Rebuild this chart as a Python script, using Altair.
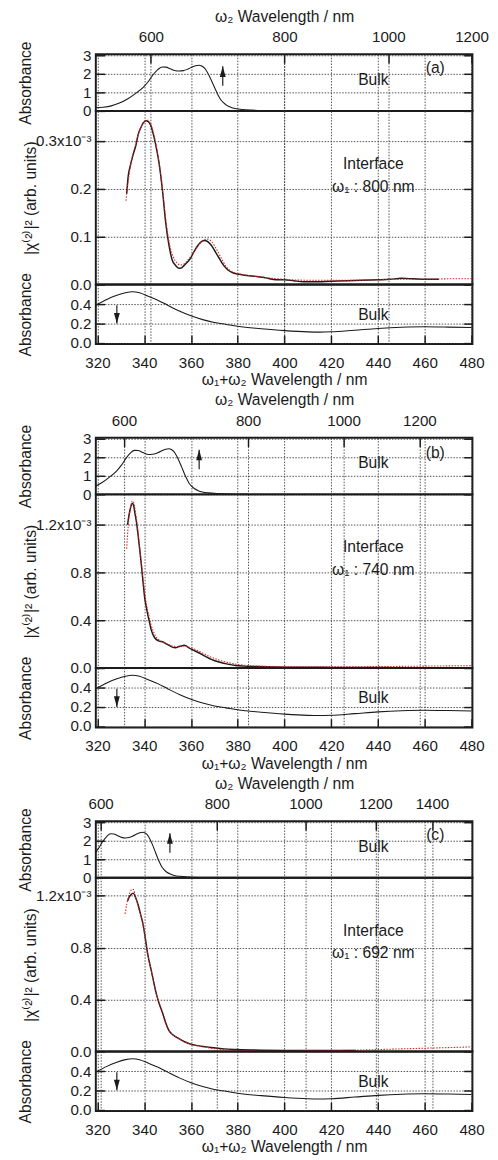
import altair as alt
import pandas as pd

FONT = "Liberation Sans"
FS = 16
LFS = 15.5
INK = "#1b1b1b"
RED = "#e3201b"
GRID = "#3a3a3a"

# ---------------- data ----------------
# bulk absorbance against the omega2 wavelength (nm)
bulk_w2_nm = [530, 540, 550, 560, 570, 580, 590, 597, 603, 609, 615, 620, 626, 632,
              638, 644, 650, 656, 661, 666, 670, 674, 678, 682, 686, 690, 694, 698,
              702, 707, 713, 720, 730, 745, 765, 800]
bulk_w2_abs = [0.17, 0.20, 0.27, 0.42, 0.64, 0.93, 1.27, 1.60, 1.95, 2.22, 2.37, 2.36,
               2.27, 2.18, 2.15, 2.17, 2.25, 2.36, 2.43, 2.46, 2.42, 2.30, 2.08, 1.80,
               1.48, 1.15, 0.85, 0.60, 0.44, 0.30, 0.20, 0.13, 0.08, 0.04, 0.015, 0.0]

# bulk absorbance against the omega1+omega2 wavelength (nm)
bulk_sum_nm = [320, 324, 328, 332, 335, 338, 342, 346, 350, 355, 360, 365, 370, 375,
               380, 390, 400, 410, 415, 420, 430, 440, 450, 460, 470, 480]
bulk_sum_abs = [0.40, 0.45, 0.49, 0.52, 0.53, 0.52, 0.48, 0.44, 0.39, 0.33, 0.28, 0.24,
                0.21, 0.19, 0.17, 0.145, 0.125, 0.112, 0.11, 0.113, 0.13, 0.148, 0.16,
                0.165, 0.162, 0.157]

# |chi(2)|^2 spectra (x10^-3), black = measured, red = fit
a_black_nm = [332.5, 333.2, 333.9, 335.3, 336.5, 337.4, 338.5, 339.5, 340.9, 342.3, 343.3,
              344.3, 345.4, 346.4, 347.8, 349.2, 350.6, 352.0, 353.4, 354.8, 356.0, 356.9,
              358.3, 359.7, 361.0, 362.4, 364.0, 365.6, 367.1, 368.7, 370.5, 372.2, 374.0,
              375.7, 377.7, 379.8, 384, 388.2, 392, 396.5, 400, 404, 408, 412, 420, 427,
              433, 440, 445, 450, 455, 460, 466]
a_black_v = [0.19, 0.228, 0.245, 0.272, 0.292, 0.313, 0.327, 0.337, 0.342, 0.337, 0.325,
             0.306, 0.28, 0.252, 0.197, 0.129, 0.082, 0.051, 0.04, 0.034, 0.035, 0.039,
             0.046, 0.054, 0.066, 0.078, 0.088, 0.092, 0.09, 0.082, 0.068, 0.054, 0.04,
             0.031, 0.025, 0.022, 0.019, 0.017, 0.014, 0.010, 0.010, 0.008, 0.006, 0.006,
             0.007, 0.008, 0.009, 0.010, 0.011, 0.013, 0.012, 0.011, 0.011]
a_red_nm = [332.2, 333.0, 334.0, 335.3, 336.5, 337.5, 339, 340.5, 341.5, 342.5, 343.5, 344.5,
            345.5, 346.5, 348, 349.5, 351, 352.5, 354, 355.5, 357, 359, 361, 363, 365, 367,
            369, 371, 373, 375, 378, 382, 386, 390, 395, 400, 410, 420, 430, 440, 450, 460,
            470, 480]
a_red_v = [0.175, 0.21, 0.245, 0.275, 0.295, 0.315, 0.333, 0.342, 0.343, 0.338, 0.325, 0.305,
           0.28, 0.25, 0.19, 0.125, 0.08, 0.057, 0.045, 0.041, 0.043, 0.053, 0.066, 0.08,
           0.091, 0.095, 0.089, 0.073, 0.055, 0.038, 0.026, 0.021, 0.018, 0.016, 0.013, 0.011,
           0.009, 0.009, 0.009, 0.010, 0.011, 0.011, 0.012, 0.012]

b_black_nm = [332.9, 333.4, 333.9, 334.4, 334.9, 335.5, 336.0, 336.7, 337.4, 338.1, 338.8,
              339.5, 340.2, 340.9, 341.5, 342.3, 343.0, 344.0, 345.1, 346.4, 347.8, 349.2,
              350.6, 352.0, 353.4, 354.8, 356.0, 356.9, 358.0, 359.0, 361.0, 363.1, 366,
              368.7, 372, 375.7, 379, 382.6, 388, 396.5, 405, 415, 425, 435, 445]
b_black_v = [1.2, 1.27, 1.32, 1.36, 1.38, 1.36, 1.30, 1.22, 1.11, 0.99, 0.86, 0.72, 0.59,
             0.51, 0.45, 0.38, 0.32, 0.27, 0.24, 0.225, 0.22, 0.205, 0.19, 0.175, 0.17, 0.18,
             0.185, 0.19, 0.185, 0.17, 0.15, 0.13, 0.10, 0.073, 0.05, 0.033, 0.022, 0.016,
             0.012, 0.008, 0.007, 0.006, 0.005, 0.005, 0.005]
b_red_nm = [332.5, 333.2, 334.0, 334.9, 335.6, 336.3, 337.2, 338.1, 339, 340, 341, 342, 343,
            344.5, 346, 348, 350, 352, 354, 356, 358, 360, 363, 366, 370, 375, 380, 385, 390,
            400, 410, 420, 430, 440, 450, 460, 470, 480]
b_red_v = [1.0, 1.2, 1.33, 1.40, 1.38, 1.30, 1.17, 1.0, 0.84, 0.66, 0.53, 0.44, 0.36, 0.28,
           0.24, 0.22, 0.20, 0.185, 0.18, 0.185, 0.18, 0.17, 0.145, 0.115, 0.08, 0.05, 0.03,
           0.02, 0.015, 0.011, 0.010, 0.010, 0.011, 0.012, 0.014, 0.016, 0.018, 0.020]

c_black_nm = [332.9, 333.6, 334.4, 335.3, 336.2, 337.4, 338.4, 339.5, 340.5, 341.5, 343.0,
              344.0, 345.1, 346.4, 347.8, 349.2, 350.6, 352.5, 354.8, 357, 359.7, 363,
              368.7, 374, 379.8, 390, 400, 410, 420, 430.6]
c_black_v = [1.16, 1.19, 1.21, 1.22, 1.19, 1.13, 1.06, 0.98, 0.87, 0.75, 0.625, 0.54, 0.45,
             0.37, 0.30, 0.22, 0.16, 0.125, 0.10, 0.077, 0.058, 0.045, 0.03, 0.02, 0.015,
             0.010, 0.008, 0.007, 0.007, 0.008]
c_red_nm = [331.8, 332.6, 333.4, 334.3, 335.3, 336.2, 337.4, 338.5, 339.5, 341.5, 343, 345.1,
            347.8, 350.6, 354.8, 359.7, 365, 370, 380, 390, 400, 410, 420, 430, 440, 450,
            460, 470, 480]
c_red_v = [1.06, 1.14, 1.20, 1.24, 1.25, 1.20, 1.12, 1.05, 0.98, 0.75, 0.625, 0.45, 0.30,
           0.165, 0.10, 0.058, 0.036, 0.022, 0.008, 0.004, 0.004, 0.005, 0.007, 0.010, 0.015,
           0.020, 0.025, 0.030, 0.035]

sum_ticks = [320, 340, 360, 380, 400, 420, 440, 460, 480]

panels = [
    dict(tag="(a)", w1=800, w2_ticks=[600, 800, 1000, 1200], mid_top=0.3627,
         mid_ticks=[0, 0.1, 0.2, 0.3], mid_label="0.3x10⁻³",
         black=(a_black_nm, a_black_v), red=(a_red_nm, a_red_v),
         up_x=373.6, tag_y=2.32, iface_y=0.252, w1_y=0.203),
    dict(tag="(b)", w1=740, w2_ticks=[600, 800, 1000, 1200], mid_top=1.455,
         mid_ticks=[0, 0.4, 0.8, 1.2], mid_label="1.2x10⁻³",
         black=(b_black_nm, b_black_v), red=(b_red_nm, b_red_v),
         up_x=363.5, tag_y=2.2, iface_y=1.012, w1_y=0.821),
    dict(tag="(c)", w1=692, w2_ticks=[600, 800, 1000, 1200, 1400], mid_top=1.338,
         mid_ticks=[0, 0.4, 0.8, 1.2], mid_label="1.2x10⁻³",
         black=(c_black_nm, c_black_v), red=(c_red_nm, c_red_v),
         up_x=351.0, tag_y=2.28, iface_y=0.93, w1_y=0.757),
]

# ---------------- layout constants ----------------
X_DOMAIN = [319.3, 480.4]
W = 386
H_TOP, H_MID, H_BOT = 58, 178, 61
TOP_DOMAIN = [0, 3.05]
BOT_DOMAIN = [-0.015, 0.605]
TS = 9
IN = {"expr": f"-{TS}"}
GRID_KW = dict(grid=True, gridColor=GRID, gridDash=[1.5, 1.5], gridWidth=0.9)
TICK_KW = dict(tickColor=INK, tickWidth=1.5)
ANN_X = 438


def xscale():
    return alt.Scale(domain=X_DOMAIN, nice=False, zero=False)


def ax_bottom(show):
    kw = dict(orient="bottom", values=sum_ticks, domain=False, labelFlush=False,
              labelOverlap=False, **GRID_KW)
    if show:
        kw.update(ticks=True, tickSize=IN, labels=True, labelPadding=TS + 12,
                  title="ω₁+ω₂ Wavelength / nm", titlePadding=1, **TICK_KW)
    else:
        kw.update(ticks=False, labels=False, title=None)
    return alt.Axis(**kw)


def ax_top(show, w1, ticks):
    vals = [1.0 / (1.0 / t + 1.0 / w1) for t in ticks]
    kw = dict(orient="top", values=vals, domain=False, labelFlush=False,
              labelOverlap=False, **GRID_KW)
    if show:
        kw.update(ticks=True, tickSize=IN, labels=True, labelPadding=TS + 10,
                  labelExpr=f"format(1/(1/datum.value - 1/{w1}), '.0f')",
                  title="ω₂ Wavelength / nm", titlePadding=6, **TICK_KW)
    else:
        kw.update(ticks=False, labels=False, title=None)
    return alt.Axis(**kw)


def ax_left(vals, expr, title, tx):
    return alt.Axis(orient="left", values=vals, domain=False, ticks=True, tickSize=IN,
                    labels=True, labelExpr=expr, labelPadding=TS + 5, labelOverlap=False,
                    labelFlush=False, title=title, titleX=tx, titleAngle=270,
                    titleBaseline="alphabetic", **GRID_KW, **TICK_KW)


def ax_right(vals):
    return alt.Axis(orient="right", values=vals, domain=False, ticks=True, tickSize=IN,
                    labels=False, grid=False, title=None, minExtent=0, **TICK_KW)


def annotations(xax, yax, yscale, texts, arrow):
    """texts: list of (x, y, label); arrow: (x, y_tail, y_tip, up)"""
    x_enc = alt.X("ax:Q", scale=xscale(), axis=xax)
    tdf = pd.DataFrame({"ax": [t[0] for t in texts], "ay": [t[1] for t in texts],
                        "t": [t[2] for t in texts]})
    txt = alt.Chart(tdf).mark_text(font=FONT, fontSize=FS, color=INK, align="center",
                                   baseline="middle").encode(
        x=x_enc, y=alt.Y("ay:Q", scale=yscale, axis=yax), text="t:N")
    ax_, ytail, ytip, up = arrow
    rdf = pd.DataFrame({"ax": [ax_], "ay": [ytail], "ay2": [ytip]})
    rule = alt.Chart(rdf).mark_rule(color=INK, strokeWidth=1.2).encode(
        x=x_enc, y=alt.Y("ay:Q", scale=yscale, axis=yax), y2="ay2:Q")
    shape = "M0,0L1,3.6L-1,3.6Z" if up else "M0,0L1,-3.6L-1,-3.6Z"
    head = alt.Chart(rdf).mark_point(shape=shape, size=36, filled=True, color=INK,
                                     opacity=1, strokeWidth=0).encode(
        x=x_enc, y=alt.Y("ay2:Q", scale=yscale, axis=yax))
    return alt.layer(txt, rule, head)


groups = []
for p in panels:
    w1 = p["w1"]
    # ---- top: bulk absorbance vs omega2 ----
    y_top = alt.Scale(domain=TOP_DOMAIN, nice=False, zero=False)
    top_df = pd.DataFrame({"w2": bulk_w2_nm, "A": bulk_w2_abs})
    top_line = alt.Chart(top_df).transform_calculate(
        xs=f"1/(1/datum.w2 + 1/{w1})").mark_line(
        color=INK, strokeWidth=1.1, clip=True, interpolate="monotone").encode(
        x=alt.X("xs:Q", scale=xscale(), axis=ax_bottom(False)),
        y=alt.Y("A:Q", scale=y_top,
                axis=ax_left([0, 1, 2, 3], "format(datum.value, 'd')", "Absorbance", -67)))
    top_ann = annotations(ax_top(True, w1, p["w2_ticks"]), ax_right([0, 1, 2, 3]),
                          alt.Scale(domain=TOP_DOMAIN, nice=False, zero=False),
                          [(ANN_X, 1.66, "Bulk"), (464.5, p["tag_y"], p["tag"])],
                          (p["up_x"], 1.35, 2.4, True))
    top = (alt.layer(top_line, top_ann).resolve_scale(x="independent", y="independent")
           .properties(width=W, height=H_TOP))

    # ---- middle: |chi(2)|^2 ----
    mt = p["mid_ticks"]
    y_mid = alt.Scale(domain=[0, p["mid_top"]], nice=False, zero=False)
    lab = p["mid_label"]
    expr = f"datum.value > {mt[-1] * 0.9} ? '{lab}' : format(datum.value, '.1f')"
    yax_mid = ax_left(mt, expr, "|χ⁽²⁾|² (arb. units)", -62)
    bdf = pd.DataFrame({"nm": p["black"][0], "v": p["black"][1]})
    rdf = pd.DataFrame({"nm": p["red"][0], "v": p["red"][1]})
    black = alt.Chart(bdf).mark_line(color=INK, strokeWidth=1.5, interpolate="monotone",
                                     clip=True).encode(
        x=alt.X("nm:Q", scale=xscale(), axis=ax_bottom(False)),
        y=alt.Y("v:Q", scale=y_mid, axis=yax_mid))
    red = alt.Chart(rdf).mark_line(color=RED, strokeWidth=1.1, strokeDash=[1.5, 1.5],
                                   interpolate="monotone", clip=True).encode(
        x=alt.X("nm:Q", scale=xscale(), axis=ax_bottom(False)),
        y=alt.Y("v:Q", scale=y_mid, axis=yax_mid))
    mid_ann_df = pd.DataFrame({"ax": [ANN_X, ANN_X], "ay": [p["iface_y"], p["w1_y"]],
                               "t": ["Interface", f"ω₁ : {w1} nm"]})
    mid_ann = alt.Chart(mid_ann_df).mark_text(font=FONT, fontSize=FS, color=INK,
                                              align="center", baseline="middle").encode(
        x=alt.X("ax:Q", scale=xscale(), axis=ax_top(False, w1, p["w2_ticks"])),
        y=alt.Y("ay:Q", scale=alt.Scale(domain=[0, p["mid_top"]], nice=False, zero=False),
                axis=ax_right(mt)),
        text="t:N")
    mid = (alt.layer(alt.layer(black, red), mid_ann)
           .resolve_scale(x="independent", y="independent")
           .properties(width=W, height=H_MID))

    # ---- bottom: bulk absorbance vs omega1+omega2 ----
    y_bot = alt.Scale(domain=BOT_DOMAIN, nice=False, zero=False)
    bot_df = pd.DataFrame({"nm": bulk_sum_nm, "A": bulk_sum_abs})
    bot_line = alt.Chart(bot_df).mark_line(color=INK, strokeWidth=1.1,
                                           interpolate="monotone", clip=True).encode(
        x=alt.X("nm:Q", scale=xscale(), axis=ax_bottom(True)),
        y=alt.Y("A:Q", scale=y_bot,
                axis=ax_left([0, 0.2, 0.4], "format(datum.value, '.1f')", "Absorbance", -67)))
    bot_ann = annotations(ax_top(False, w1, p["w2_ticks"]), ax_right([0, 0.2, 0.4]),
                          alt.Scale(domain=BOT_DOMAIN, nice=False, zero=False),
                          [(ANN_X, 0.29, "Bulk")],
                          (328.3, 0.39, 0.2, False))
    bot = (alt.layer(bot_line, bot_ann).resolve_scale(x="independent", y="independent")
           .properties(width=W, height=H_BOT))

    groups.append(alt.vconcat(top, mid, bot, spacing=0, bounds="flush"))

chart = (
    alt.vconcat(*groups, spacing=2)
    .properties(padding={"left": 8, "top": -15, "right": 0, "bottom": 0})
    .configure_view(stroke=INK, strokeWidth=2)
    .configure_axis(labelFont=FONT, titleFont=FONT, labelFontSize=LFS, titleFontSize=FS,
                    labelColor=INK, titleColor=INK, titleFontWeight="normal")
    .configure_text(font=FONT)
)

chart.save("out.html", embed_options={"renderer": "svg", "actions": False})
